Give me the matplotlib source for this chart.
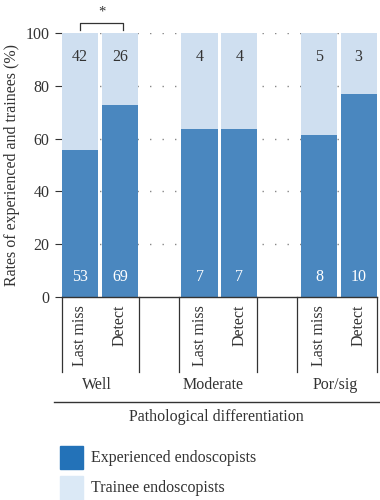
import matplotlib
matplotlib.use("Agg")
import matplotlib.pyplot as plt
from matplotlib.lines import Line2D
from matplotlib.patches import Rectangle
import matplotlib.transforms as mtransforms

plt.rcParams['font.family'] = ['Liberation Serif', 'DejaVu Serif']

groups = ["Well", "Moderate", "Por/sig"]
bar_labels = ["Last miss", "Detect", "Last miss", "Detect", "Last miss", "Detect"]
experienced = [53, 69, 7, 7, 8, 10]
trainee = [42, 26, 4, 4, 5, 3]
positions = [0, 1, 3, 4, 6, 7]
group_pos = [0.42, 3.35, 6.4]
yticks = [0, 20, 40, 60, 80, 100]

exp_pct = [e / (e + t) * 100 for e, t in zip(experienced, trainee)]
tr_pct = [100 - p for p in exp_pct]

c_dark = "#4a87bf"
c_light = "#cfdff0"
leg_dark = "#2372b8"
leg_light = "#dbe9f6"
txt = "#333333"
fs = 11.5

fig = plt.figure(figsize=(3.8, 5.0), dpi=100)
ax = fig.add_axes([0.163, 0.406, 0.829, 0.528])

for y in yticks[1:]:
    ax.axhline(y, color="#888888", lw=1.0, ls=(0, (1, 8)), zorder=0)

w = 0.91
ax.bar(positions, exp_pct, width=w, color=c_dark, zorder=2)
ax.bar(positions, tr_pct, bottom=exp_pct, width=w, color=c_light, zorder=2)

for x, e, t in zip(positions, experienced, trainee):
    ax.text(x, 7.6, str(e), color="white", ha="center", va="center", fontsize=fs, zorder=3)
    ax.text(x, 91, str(t), color=txt, ha="center", va="center", fontsize=fs, zorder=3)

ax.set_xlim(-0.46, 7.46)
ax.set_ylim(0, 100)
ax.set_yticks(yticks)
ax.tick_params(axis="y", length=5, width=0.8, color=txt, labelsize=fs, labelcolor=txt, pad=4)
ax.set_xticks([])
for s in ["left", "right", "top"]:
    ax.spines[s].set_visible(False)
ax.spines["bottom"].set_color(txt)
ax.spines["bottom"].set_linewidth(1.0)
ax.set_ylabel("Rates of experienced and trainees (%)", fontsize=fs, color=txt, labelpad=4)

trans = mtransforms.blended_transform_factory(ax.transData, ax.transAxes)
for sx in [-0.455, 1.47, 2.49, 4.45, 5.45, 7.455]:
    ax.plot([sx, sx], [0, -0.284], transform=trans, color=txt, lw=0.9, clip_on=False)

for x, lab in zip(positions, bar_labels):
    ax.text(x, -0.03, lab, transform=trans, rotation=90, ha="center", va="top",
            fontsize=fs, color=txt)

for x, g in zip(group_pos, groups):
    ax.text(x, -0.335, g, transform=trans, ha="center", va="center", fontsize=fs, color=txt)

fig.add_artist(Line2D([0.142, 1.0], [0.196, 0.196], color=txt, lw=1.0))
fig.text(0.57, 0.166, "Pathological differentiation", ha="center", va="center",
         fontsize=fs, color=txt)

# significance bracket
ax.plot([0, 0, 1.08, 1.08], [101.2, 103.9, 103.9, 101.2], color=txt, lw=0.9, clip_on=False)
ax.text(0.54, 107.8, "*", ha="center", va="center", fontsize=10.5, color=txt)

# legend
fig.add_artist(Rectangle((60 / 380, 1 - 469 / 500), 23 / 380, 23 / 500,
                         transform=fig.transFigure, color=leg_dark))
fig.add_artist(Rectangle((60 / 380, 1 - 500 / 500), 23 / 380, 24 / 500,
                         transform=fig.transFigure, color=leg_light))
fig.text(91 / 380, 1 - 458 / 500, "Experienced endoscopists", ha="left", va="center",
         fontsize=fs, color=txt)
fig.text(91 / 380, 1 - 488 / 500, "Trainee endoscopists", ha="left", va="center",
         fontsize=fs, color=txt)

fig.savefig("out.png", dpi=100)
